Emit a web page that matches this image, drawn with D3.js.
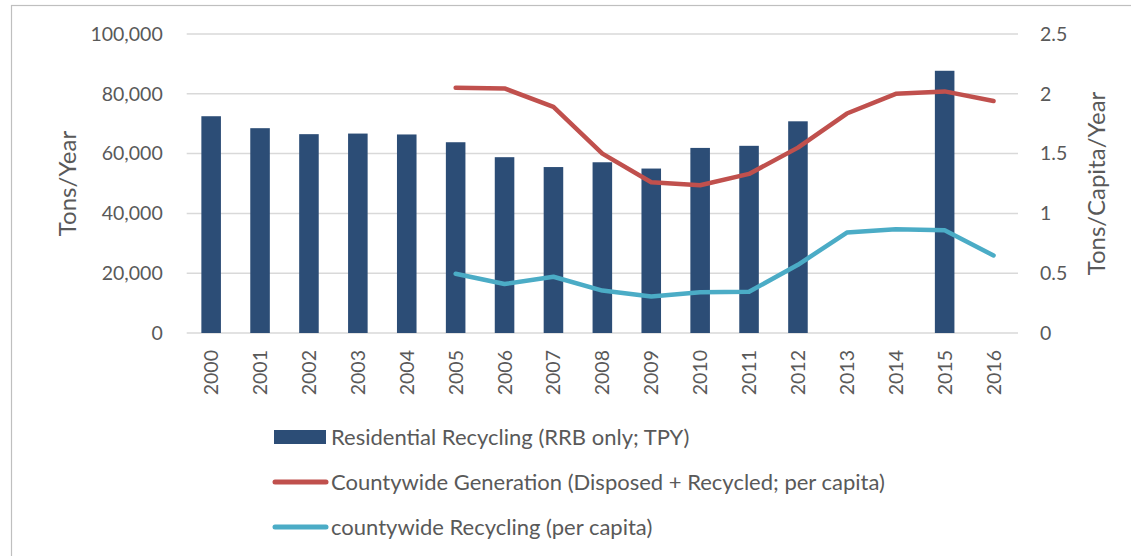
<!DOCTYPE html>
<html>
<head>
<meta charset="utf-8">
<script src="https://cdn.jsdelivr.net/npm/d3@7"></script>
<style>
  html, body { margin: 0; padding: 0; background: #fff; }
  svg { display: block; font-family: Lato, "Open Sans", sans-serif; }
</style>
</head>
<body>
<svg id="chart" width="1131" height="556"></svg>
<script>
const years = ["2000","2001","2002","2003","2004","2005","2006","2007","2008","2009","2010","2011","2012","2013","2014","2015","2016"];
const residentialRecycling = [72500, 68500, 66500, 66700, 66400, 63800, 58800, 55500, 57100, 55000, 61900, 62600, 70800, null, null, 87700, null];
const countywideGeneration = [null, null, null, null, null, 2.05, 2.045, 1.89, 1.50, 1.26, 1.235, 1.33, 1.55, 1.835, 2.0, 2.02, 1.94];
const countywideRecycling = [null, null, null, null, null, 0.495, 0.41, 0.47, 0.355, 0.305, 0.34, 0.345, 0.57, 0.84, 0.868, 0.86, 0.648];
const leftTicks = [0, 20000, 40000, 60000, 80000, 100000];
const rightTicks = [0, 0.5, 1, 1.5, 2, 2.5];
const legendLabels = ["Residential Recycling (RRB only; TPY)", "Countywide Generation (Disposed + Recycled; per capita)", "countywide Recycling (per capita)"];
const colors = { bar: "#2c4d76", gen: "#c0504d", rec: "#4bacc6", grid: "#d9d9d9", text: "#595959" };

const svg = d3.select("#chart");
const plot = { left: 186.7, right: 1018, top: 34, bottom: 333 };
const fontSize = 19.5;

svg.append("rect").attr("x", 11.5).attr("y", 5.5).attr("width", 1200).attr("height", 700)
  .attr("fill", "none").attr("stroke", "#bfbfbf").attr("stroke-width", 1.2);

const x = d3.scaleBand().domain(years).range([plot.left, plot.right]).padding(0);
const yL = d3.scaleLinear().domain([0, 100000]).range([plot.bottom, plot.top]);
const yR = d3.scaleLinear().domain([0, 2.5]).range([plot.bottom, plot.top]);

// gridlines
svg.append("g").selectAll("line").data(leftTicks).join("line")
  .attr("x1", plot.left).attr("x2", plot.right)
  .attr("y1", d => yL(d)).attr("y2", d => yL(d))
  .attr("stroke", colors.grid).attr("stroke-width", 1.5);

// left axis
const leftAxis = svg.append("g").attr("transform", `translate(${plot.left - 24},0)`)
  .call(d3.axisLeft(yL).tickValues(leftTicks).tickSize(0).tickPadding(0).tickFormat(d3.format(",")));
leftAxis.select(".domain").remove();
leftAxis.selectAll("text").attr("fill", colors.text).style("font-size", fontSize + "px").style("font-family", "Lato, 'Open Sans', sans-serif");

// right axis
const rightAxis = svg.append("g").attr("transform", `translate(${plot.right + 22},0)`)
  .call(d3.axisRight(yR).tickValues(rightTicks).tickSize(0).tickPadding(0).tickFormat(d => String(d)));
rightAxis.select(".domain").remove();
rightAxis.selectAll("text").attr("fill", colors.text).style("font-size", fontSize + "px").style("font-family", "Lato, 'Open Sans', sans-serif");

// bottom axis
const bottomAxis = svg.append("g").attr("transform", `translate(0,${plot.bottom})`)
  .call(d3.axisBottom(x).tickSize(0).tickPadding(0));
bottomAxis.select(".domain").remove();
bottomAxis.selectAll("text")
  .attr("fill", colors.text).style("font-size", fontSize + "px").style("font-family", "Lato, 'Open Sans', sans-serif")
  .attr("text-anchor", "end").attr("dy", null).attr("y", 0)
  .attr("transform", "translate(7,17) rotate(-90)");

// bars
const barW = x.bandwidth() * 0.4;
svg.append("g").selectAll("rect").data(years.map((y, i) => ({ y, v: residentialRecycling[i] })).filter(d => d.v != null))
  .join("rect")
  .attr("x", d => x(d.y) + x.bandwidth() / 2 - barW / 2)
  .attr("width", barW)
  .attr("y", d => yL(d.v))
  .attr("height", d => yL(0) - yL(d.v))
  .attr("fill", colors.bar);

// lines
const line = d3.line().defined(d => d.v != null).x(d => x(d.y) + x.bandwidth() / 2).y(d => yR(d.v));
svg.append("path").datum(years.map((y, i) => ({ y, v: countywideGeneration[i] })))
  .attr("d", line).attr("fill", "none").attr("stroke", colors.gen).attr("stroke-width", 4.5)
  .attr("stroke-linejoin", "round").attr("stroke-linecap", "round");
svg.append("path").datum(years.map((y, i) => ({ y, v: countywideRecycling[i] })))
  .attr("d", line).attr("fill", "none").attr("stroke", colors.rec).attr("stroke-width", 4.5)
  .attr("stroke-linejoin", "round").attr("stroke-linecap", "round");

// axis titles
svg.append("text").attr("transform", `translate(76,${(plot.top + plot.bottom) / 2}) rotate(-90)`)
  .attr("text-anchor", "middle").attr("fill", colors.text).style("font-size", "24px").text("Tons/Year");
svg.append("text").attr("transform", `translate(1105,${(plot.top + plot.bottom) / 2}) rotate(-90)`)
  .attr("text-anchor", "middle").attr("fill", colors.text).style("font-size", "24px").text("Tons/Capita/Year");

// legend
const legend = svg.append("g");
const rowsY = [437, 482, 527];
legend.append("rect").attr("x", 274).attr("y", rowsY[0] - 7).attr("width", 52).attr("height", 14).attr("fill", colors.bar);
legend.append("line").attr("x1", 275).attr("x2", 326).attr("y1", rowsY[1]).attr("y2", rowsY[1])
  .attr("stroke", colors.gen).attr("stroke-width", 5).attr("stroke-linecap", "round");
legend.append("line").attr("x1", 275).attr("x2", 326).attr("y1", rowsY[2]).attr("y2", rowsY[2])
  .attr("stroke", colors.rec).attr("stroke-width", 5).attr("stroke-linecap", "round");
legend.selectAll("text").data(legendLabels).join("text")
  .attr("x", 331).attr("y", (d, i) => rowsY[i]).attr("dy", "0.35em")
  .attr("fill", colors.text).style("font-size", "22px").text(d => d);
</script>
</body>
</html>
